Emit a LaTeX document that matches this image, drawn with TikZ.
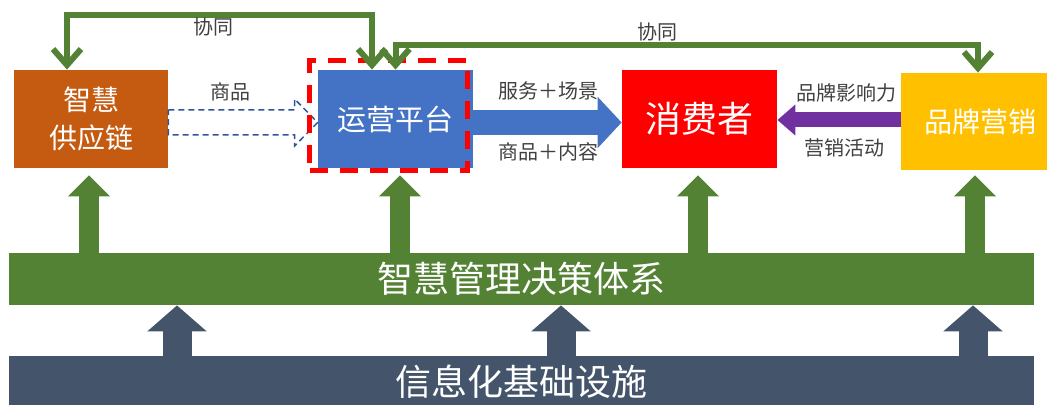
\documentclass[tikz,border=0pt]{standalone}
\usepackage{fontspec}
\setmainfont{Noto Sans CJK SC}
\usetikzlibrary{arrows.meta,calc}
\definecolor{cgreen}{HTML}{548235}
\definecolor{cdark}{HTML}{44546A}
\definecolor{corange}{HTML}{C55A11}
\definecolor{cblue}{HTML}{4472C4}
\definecolor{cred}{HTML}{FF0000}
\definecolor{cyellow}{HTML}{FFC000}
\definecolor{cpurple}{HTML}{7030A0}
\definecolor{chollow}{HTML}{2F5597}
\definecolor{labelgray}{HTML}{404040}
\begin{document}
\begin{tikzpicture}[x=0.5pt,y=-0.5pt,
  box/.style={draw=none, inner sep=0pt, text=white, align=center, minimum width=77.5pt, minimum height=49pt},
  bar/.style={draw=none, inner sep=0pt, text=white, minimum width=512.5pt, minimum height=26pt, font=\fontsize{18}{20}\selectfont},
  lbl/.style={text=labelgray, inner sep=0pt, font=\fontsize{10}{12}\selectfont},
  looparr/.style={draw=cgreen, line width=3pt, {Straight Barb[length=8pt,width=14pt]}-{Straight Barb[length=8pt,width=14pt]}},
  uparr/.style={draw=cgreen, line width=10pt, -{Triangle[length=10.5pt,width=20.5pt]}, shorten >=3.5pt},
  infarr/.style={draw=cdark, line width=14.5pt, -{Triangle[length=13pt,width=29pt]}},
  bluearr/.style={draw=cblue, line width=12.5pt, -{Triangle[length=12pt,width=25pt]}},
  purparr/.style={draw=cpurple, line width=7.5pt, -{Triangle[length=9pt,width=15pt]}},
  hollowarr/.style={draw=chollow, line width=0.75pt, dash pattern=on 3pt off 2pt, fill=white},
  hilite/.style={draw=cred, line width=2.5pt, dash pattern=on 9pt off 6pt, inner sep=0pt, minimum width=79pt, minimum height=55pt}
]
\useasboundingbox (0,0) rectangle (1047,405);

% boxes
\node[box, fill=corange, minimum width=77pt, font=\fontsize{14}{19}\selectfont] (sc) at (91,119) {智慧\\供应链};
\node[box, fill=cblue, font=\fontsize{14.5}{17}\selectfont] (op) at (395.5,119) {运营平台};
\node[box, fill=cred, font=\fontsize{18}{20}\selectfont] (cs) at (699.5,119) {消费者};
\node[box, fill=cyellow, minimum width=79pt, minimum height=48.5pt, font=\fontsize{14}{17}\selectfont] (bm) at (980,121.5) {品牌营销};

% bars
\node[bar, fill=cgreen] (mg) at (521.5,279) {智慧管理决策体系};
\node[bar, fill=cdark] (it) at (521.5,382) {信息化基础设施};

% hollow dashed arrow
\draw[hollowarr] ($(sc.east)+(0,-9)$) -- ($(op.west)+(-23,-9)$) -- ($(op.west)+(-23,-20)$)
  -- ($(op.west)+(0,3.5)$) -- ($(op.west)+(-23,27)$) -- ($(op.west)+(-23,16)$)
  -- ($(sc.east)+(0,16)$) -- cycle;

% highlight around platform
\node[hilite] (hl) at (388.5,116) {};

% blue and purple arrows
\draw[bluearr] ($(op.east)+(0,3.5)$) -- ($(cs.west)+(0,3.5)$);
\draw[purparr] ($(bm.west)+(0,-1.5)$) -- ($(cs.east)+(0,1)$);

% synergy loops
\draw[looparr] ([xshift=-11.75pt]op.north) -- ++(0,-55) -| ([xshift=-12pt]sc.north);
\draw[looparr] (op.north) -- ++(0,-25) -| ([xshift=-1pt]bm.north);

% up arrows from management bar
\draw[uparr] ([xshift=-1pt]sc.south |- mg.north) -- ([xshift=-1pt]sc.south);
\draw[uparr] ([xshift=2.25pt]op.south |- mg.north) -- ([xshift=2.25pt]op.south);
\draw[uparr] ([xshift=-0.75pt]cs.south |- mg.north) -- ([xshift=-0.75pt]cs.south);
\draw[uparr, shorten >=2.5pt] ([xshift=-2.5pt]bm.south |- mg.north) -- ([xshift=-2.5pt]bm.south);

% up arrows from infrastructure bar
\draw[infarr] ([xshift=-172.25pt]it.north) -- ([xshift=-172.25pt]mg.south);
\draw[infarr] ([xshift=19.75pt]it.north) -- ([xshift=19.75pt]mg.south);
\draw[infarr] ([xshift=225.75pt]it.north) -- ([xshift=225.75pt]mg.south);

% labels
\node[lbl] (t1) at (213,27) {协同};
\node[lbl] (t2) at (657,32) {协同};
\node[lbl] (t3) at (230,92) {商品};
\node[lbl] (t4) at (548,91) {服务＋场景};
\node[lbl] (t5) at (548,152) {商品＋内容};
\node[lbl] (t6) at (846,93) {品牌影响力};
\node[lbl] (t7) at (844,148) {营销活动};
\end{tikzpicture}
\end{document}
